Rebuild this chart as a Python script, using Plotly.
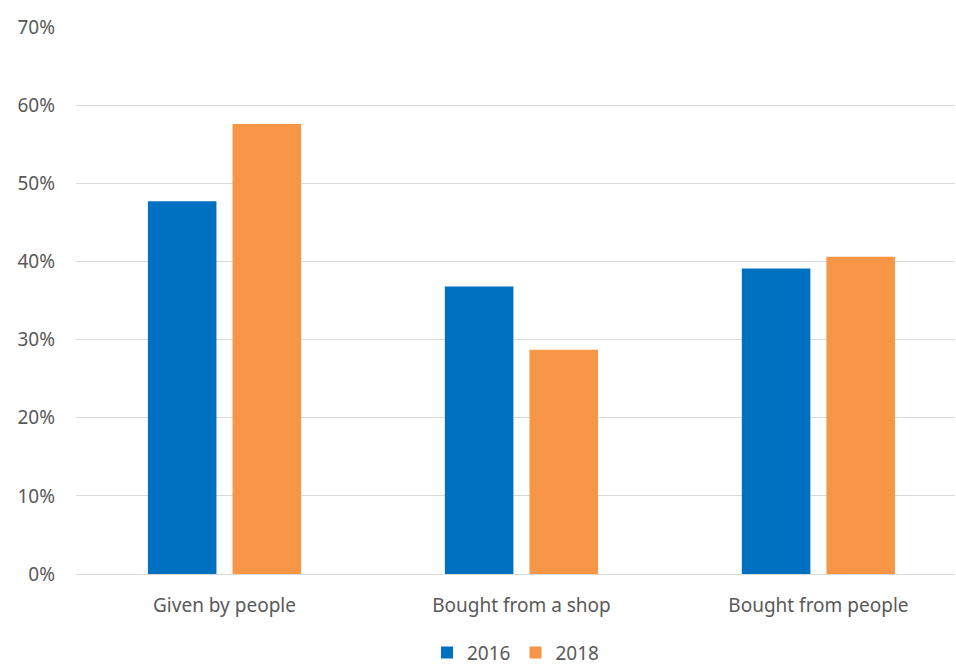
import plotly.graph_objects as go

categories = ["Given by people", "Bought from a shop", "Bought from people"]
years = ["2016", "2018"]
values_2016 = [47.7, 36.8, 39.1]
values_2018 = [57.6, 28.7, 40.6]
tick_vals = [0, 10, 20, 30, 40, 50, 60, 70]
tick_text = ["0%", "10%", "20%", "30%", "40%", "50%", "60%", "70%"]
colors = ["#0070C0", "#F79646"]

fig = go.Figure()
for name, vals, col in zip(years, [values_2016, values_2018], colors):
    fig.add_trace(go.Bar(x=categories, y=vals, name=name, marker_color=col,
                         marker_line_width=0))

font = dict(family="Noto Sans, Open Sans, sans-serif", size=19, color="#595959")
fig.update_layout(
    width=956, height=666,
    margin=dict(l=76, r=1, t=27, b=92, autoexpand=False),
    plot_bgcolor="white", paper_bgcolor="white",
    barmode="group", bargap=0.43, bargroupgap=0.19,
    font=font,
    showlegend=True,
    legend=dict(orientation="h", x=0.5, xanchor="center", yref="container",
                y=0.02, yanchor="middle",
                font=font, itemwidth=30, traceorder="normal"),
    xaxis=dict(showgrid=False, showline=True, linecolor="#d9d9d9", linewidth=1,
               ticks="", tickfont=font, ticklabelstandoff=14,
               range=[-0.5, 2.46]),
    yaxis=dict(range=[0, 70], tickvals=tick_vals, ticktext=tick_text,
               showgrid=True, gridcolor="#d9d9d9", gridwidth=1,
               zeroline=False, showline=False, ticks="", tickfont=font,
               ticklabelstandoff=20),
)
fig.write_html("out.html")
